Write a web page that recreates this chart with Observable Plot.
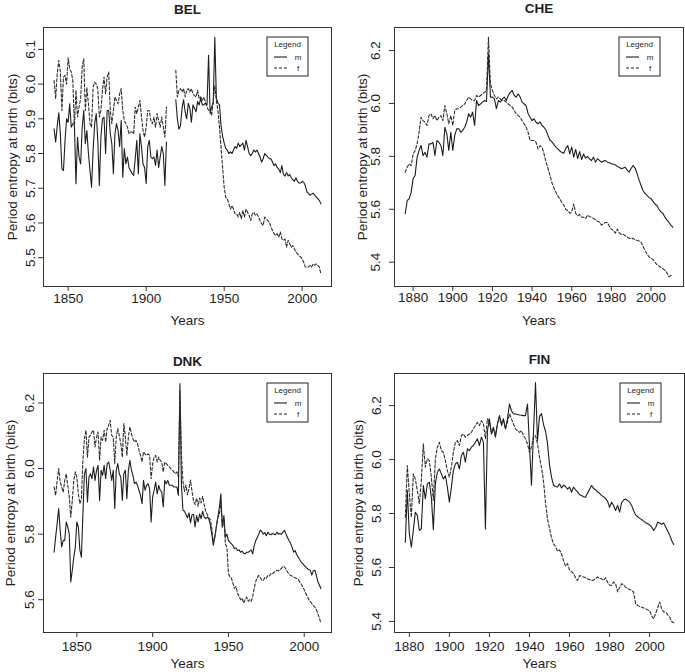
<!DOCTYPE html>
<html><head><meta charset="utf-8">
<script src="https://cdn.jsdelivr.net/npm/d3@7"></script>
<script src="https://cdn.jsdelivr.net/npm/@observablehq/plot@0.6"></script>
<style>
html,body{margin:0;padding:0;background:#fff;}
#wrap{position:relative;width:685px;height:672px;overflow:hidden;background:#fff;}
#wrap svg{position:absolute;}
</style></head><body><div id="wrap"></div>
<script>
// ---------------- DATA ----------------
const countries = ["BEL", "CHE", "DNK", "FIN"];
const legendTitle = "Legend";
const legendLabels = ["m", "f"];
const xLabel = "Years";
const yLabel = "Period entropy at birth (bits)";

// BEL: 1841-2012, no data 1914-1918
const belStart = 1841;
const belMale = [
 5.871,5.833,5.88,5.917,5.857,5.756,5.751,5.838,5.90,5.89,
 5.943,5.876,5.886,5.888,5.713,5.847,5.79,5.77,5.876,5.924,
 5.828,5.866,5.80,5.751,5.703,5.81,5.886,5.915,5.838,5.708,
 5.847,5.90,5.905,5.80,5.924,5.924,5.857,5.828,5.742,5.857,
 5.886,5.866,5.82,5.895,5.732,5.814,5.77,5.79,5.76,5.751,
 5.742,5.737,5.785,5.838,5.742,5.857,5.82,5.77,5.76,5.713,
 5.82,5.838,5.79,5.785,5.79,5.766,5.81,5.76,5.79,5.82,
 5.80,5.708,5.833,
 null,null,null,null,null,
 5.955,5.90,5.87,5.88,5.93,5.955,5.92,5.90,5.945,5.93,5.89,5.94,
 5.93,5.92,5.95,5.94,5.96,5.94,5.94,5.945,5.94,6.083,
 5.915,5.935,5.945,6.135,5.96,5.945,5.94,5.88,5.85,5.83,
 5.815,5.81,5.80,5.805,5.80,5.81,5.82,5.815,5.83,5.82,
 5.825,5.83,5.81,5.838,5.82,5.80,5.794,5.80,5.81,5.805,
 5.81,5.80,5.79,5.775,5.785,5.80,5.795,5.79,5.785,5.785,
 5.775,5.765,5.77,5.76,5.755,5.745,5.765,5.74,5.735,5.745,
 5.735,5.74,5.73,5.725,5.72,5.73,5.72,5.715,5.715,5.72,
 5.717,5.707,5.69,5.685,5.68,5.683,5.686,5.68,5.675,5.67,5.665,5.655
];
const belFemale = [
 6.01,5.958,6.03,6.068,6.035,5.924,6.02,6.025,6.0,6.076,
 6.044,6.035,6.01,5.876,5.982,5.905,5.934,5.958,6.05,6.073,
 5.924,5.99,5.943,5.886,5.876,5.99,6.006,6.0,5.987,5.905,
 5.924,5.982,6.02,5.972,6.02,6.035,5.924,5.886,5.924,5.963,
 5.953,5.943,5.972,5.987,5.924,5.895,5.886,5.876,5.857,5.862,
 5.862,5.857,5.934,5.915,5.934,5.953,5.905,5.866,5.847,5.876,
 5.924,5.924,5.895,5.886,5.905,5.876,5.915,5.895,5.876,5.905,
 5.876,5.847,5.934,
 null,null,null,null,null,
 6.04,5.963,5.982,5.987,5.977,5.987,5.963,5.982,5.987,5.977,5.987,5.972,
 5.967,5.963,5.982,5.958,5.963,5.953,5.963,5.948,5.934,5.924,
 5.924,5.91,5.953,5.996,5.953,5.924,5.876,5.818,5.76,5.703,
 5.674,5.67,5.655,5.64,5.65,5.64,5.626,5.626,5.617,5.631,
 5.612,5.636,5.617,5.64,5.631,5.622,5.607,5.626,5.631,5.622,
 5.626,5.617,5.607,5.598,5.593,5.617,5.612,5.607,5.602,5.588,
 5.578,5.569,5.564,5.569,5.559,5.574,5.554,5.55,5.554,5.53,
 5.55,5.54,5.53,5.535,5.526,5.516,5.511,5.506,5.502,5.497,
 5.487,5.473,5.473,5.473,5.478,5.473,5.482,5.478,5.482,5.478,5.473,5.453
];

// CHE: 1876-2011
const cheStart = 1876;
const cheMale = [
 5.583,5.633,5.639,5.665,5.715,5.728,5.797,5.822,5.841,5.803,
 5.815,5.797,5.847,5.847,5.853,5.803,5.86,5.853,5.841,5.803,
 5.91,5.885,5.822,5.891,5.822,5.879,5.904,5.904,5.891,5.898,
 5.91,5.929,5.961,5.948,5.967,5.917,6.011,5.992,5.998,6.005,
 6.011,6.007,6.187,6.024,6.024,6.017,5.98,6.011,6.005,6.017,
 6.024,6.011,6.03,6.042,6.049,6.03,6.024,6.036,6.024,6.005,
 5.998,5.992,5.961,5.948,5.935,5.942,5.929,5.923,5.93,5.917,
 5.91,5.90,5.88,5.862,5.855,5.845,5.835,5.828,5.82,5.815,
 5.812,5.83,5.841,5.809,5.835,5.797,5.826,5.791,5.818,5.788,
 5.809,5.793,5.80,5.79,5.784,5.797,5.778,5.791,5.785,5.778,
 5.782,5.784,5.778,5.776,5.772,5.77,5.768,5.762,5.759,5.753,
 5.756,5.759,5.748,5.74,5.755,5.765,5.755,5.734,5.71,5.69,
 5.67,5.66,5.652,5.645,5.64,5.63,5.62,5.614,5.60,5.59,
 5.585,5.57,5.56,5.551,5.54,5.532
];
const cheFemale = [
 5.74,5.759,5.772,5.765,5.809,5.822,5.847,5.891,5.948,5.935,
 5.929,5.917,5.954,5.961,5.942,5.954,5.935,5.948,5.954,5.935,
 5.992,5.961,5.923,5.954,5.917,5.973,5.98,5.98,5.986,5.992,
 5.998,6.011,6.024,6.017,6.011,6.011,6.03,6.024,6.03,6.036,
 6.042,6.049,6.25,6.074,6.049,6.03,6.017,6.024,6.017,6.011,
 6.011,6.005,5.998,5.992,5.986,5.973,5.961,5.954,5.948,5.935,
 5.923,5.91,5.891,5.86,5.86,5.86,5.853,5.828,5.84,5.835,
 5.81,5.78,5.755,5.73,5.70,5.68,5.665,5.65,5.64,5.625,
 5.615,5.60,5.595,5.585,5.59,5.62,5.585,5.575,5.58,5.57,
 5.57,5.565,5.578,5.572,5.57,5.565,5.56,5.555,5.552,5.54,
 5.545,5.55,5.55,5.535,5.525,5.52,5.51,5.525,5.51,5.505,
 5.505,5.50,5.495,5.49,5.488,5.49,5.485,5.482,5.48,5.475,
 5.46,5.445,5.43,5.42,5.415,5.41,5.40,5.39,5.385,5.38,
 5.375,5.37,5.36,5.345,5.35,5.35
];

// DNK: 1835-2011
const dnkStart = 1835;
const dnkMale = [
 5.745,5.791,5.832,5.878,5.812,5.761,5.781,5.781,5.837,5.822,
 5.801,5.654,5.69,5.73,5.761,5.837,5.822,5.751,5.73,5.862,
 5.984,6.0,5.898,5.974,5.984,5.969,6.005,5.964,5.995,6.01,
 5.903,5.995,5.979,6.01,5.969,6.015,6.02,5.995,5.964,5.995,
 5.878,5.995,6.015,5.984,5.974,5.903,5.984,5.995,5.908,5.995,
 6.025,5.995,5.979,5.954,5.959,5.949,5.934,5.918,5.893,5.964,
 5.934,5.949,5.954,5.939,5.837,5.913,5.934,5.959,5.923,5.949,
 5.934,5.928,5.883,5.964,5.954,5.964,5.949,5.949,5.949,5.944,
 5.944,5.944,5.918,6.259,5.95,5.873,5.87,5.86,5.85,5.865,
 5.835,5.86,5.86,5.822,5.857,5.837,5.862,5.847,5.87,5.852,
 5.847,5.852,5.847,5.83,5.801,5.766,5.791,5.822,5.852,5.88,
 5.923,5.822,5.857,5.791,5.80,5.78,5.775,5.77,5.765,5.756,
 5.758,5.75,5.752,5.745,5.748,5.742,5.74,5.745,5.745,5.748,
 5.752,5.74,5.765,5.78,5.79,5.80,5.812,5.808,5.80,5.805,
 5.795,5.806,5.80,5.798,5.802,5.80,5.798,5.806,5.80,5.802,
 5.80,5.806,5.812,5.80,5.79,5.78,5.772,5.76,5.745,5.75,
 5.738,5.73,5.722,5.715,5.71,5.705,5.70,5.695,5.692,5.69,
 5.675,5.688,5.69,5.674,5.655,5.645,5.634
];
const dnkFemale = [
 5.944,5.918,5.964,6.0,5.959,5.944,5.928,5.964,5.984,5.949,
 5.913,5.852,5.903,5.964,5.99,5.974,5.923,5.893,5.908,6.025,
 6.091,6.117,6.035,6.096,6.101,6.112,6.117,6.066,6.096,6.112,
 6.025,6.096,6.086,6.117,6.081,6.122,6.132,6.147,6.101,6.096,
 6.015,6.096,6.122,6.101,6.076,6.035,6.137,6.096,6.04,6.096,
 6.127,6.106,6.091,6.081,6.086,6.076,6.056,6.04,6.02,6.051,
 6.045,6.04,6.045,6.04,5.969,6.015,6.035,6.04,6.02,6.035,
 6.025,6.02,5.99,6.02,6.015,6.01,6.005,6.0,5.995,5.99,
 5.984,5.99,5.974,6.239,6.045,5.96,5.93,5.95,5.92,5.94,
 5.965,5.93,5.90,5.89,5.91,5.885,5.91,5.895,5.915,5.89,
 5.87,5.86,5.85,5.845,5.82,5.775,5.79,5.82,5.85,5.86,
 5.90,5.82,5.85,5.77,5.76,5.68,5.67,5.665,5.65,5.635,
 5.64,5.62,5.61,5.60,5.605,5.59,5.60,5.608,5.595,5.60,
 5.595,5.61,5.635,5.655,5.668,5.674,5.668,5.66,5.658,5.668,
 5.665,5.674,5.672,5.68,5.678,5.684,5.686,5.69,5.688,5.692,
 5.695,5.702,5.70,5.692,5.685,5.678,5.674,5.672,5.669,5.667,
 5.665,5.662,5.655,5.648,5.64,5.63,5.62,5.61,5.60,5.595,
 5.588,5.582,5.578,5.57,5.557,5.545,5.527
];

// FIN: 1878-2012
const finStart = 1878;
const finMale = [
 5.694,5.885,5.725,5.675,5.737,5.805,5.793,5.737,5.743,5.904,
 5.854,5.91,5.916,5.86,5.74,5.91,5.953,5.965,5.947,5.928,
 5.94,5.898,5.842,5.898,5.959,5.984,5.99,5.965,6.015,6.027,
 5.99,6.04,6.033,6.046,6.052,6.064,6.077,6.052,6.083,6.064,
 5.743,6.107,6.151,6.095,6.12,6.083,6.132,6.163,6.132,6.151,
 6.114,6.151,6.206,6.181,6.169,6.169,6.167,6.165,6.164,6.163,
 6.163,6.206,6.05,5.905,6.10,6.285,6.07,6.16,6.17,6.13,
 6.105,6.06,5.98,5.935,5.905,5.90,5.898,5.91,5.895,5.905,
 5.90,5.89,5.898,5.879,5.898,5.888,5.88,5.87,5.867,5.862,
 5.86,5.875,5.89,5.904,5.893,5.888,5.88,5.875,5.867,5.862,
 5.855,5.845,5.823,5.842,5.83,5.811,5.83,5.805,5.84,5.85,
 5.854,5.848,5.842,5.83,5.81,5.795,5.788,5.782,5.778,5.772,
 5.766,5.762,5.758,5.75,5.737,5.748,5.768,5.765,5.76,5.765,
 5.75,5.735,5.72,5.70,5.685
];
const finFemale = [
 5.786,5.978,5.873,5.786,5.947,5.928,5.885,5.836,5.922,6.058,
 5.972,6.002,5.996,5.935,5.848,6.002,6.046,6.064,6.033,6.027,
 5.996,5.959,5.935,5.972,6.027,6.064,6.07,6.052,6.089,6.095,
 6.083,6.089,6.095,6.101,6.114,6.126,6.138,6.126,6.144,6.132,
 6.077,6.151,6.138,6.095,6.114,6.089,6.132,6.157,6.126,6.144,
 6.114,6.138,6.169,6.151,6.132,6.114,6.107,6.101,6.107,6.089,
 6.077,6.058,6.027,6.046,6.083,6.089,6.06,6.01,5.97,5.92,
 5.84,5.78,5.745,5.71,5.688,5.678,5.66,5.665,5.65,5.626,
 5.605,5.614,5.59,5.585,5.577,5.562,5.552,5.57,5.567,5.565,
 5.562,5.558,5.555,5.552,5.553,5.558,5.565,5.56,5.558,5.552,
 5.562,5.545,5.535,5.533,5.546,5.54,5.51,5.525,5.54,5.535,
 5.527,5.521,5.518,5.515,5.509,5.465,5.46,5.455,5.453,5.45,
 5.447,5.443,5.44,5.42,5.41,5.43,5.45,5.472,5.447,5.435,
 5.435,5.425,5.416,5.40,5.395
];

// Tick labels
const belXTicks = [1850, 1900, 1950, 2000];
const belYTicks = [5.5, 5.6, 5.7, 5.8, 5.9, 6.0, 6.1];
const cheXTicks = [1880, 1900, 1920, 1940, 1960, 1980, 2000];
const cheYTicks = [5.4, 5.6, 5.8, 6.0, 6.2];
const dnkXTicks = [1850, 1900, 1950, 2000];
const dnkYTicks = [5.6, 5.8, 6.0, 6.2];
const finXTicks = [1880, 1900, 1920, 1940, 1960, 1980, 2000];
const finYTicks = [5.4, 5.6, 5.8, 6.0, 6.2];

// ---------------- SCALES / LAYOUT ----------------
const series = {
  BEL: {start: belStart, m: belMale, f: belFemale, xt: belXTicks, yt: belYTicks},
  CHE: {start: cheStart, m: cheMale, f: cheFemale, xt: cheXTicks, yt: cheYTicks},
  DNK: {start: dnkStart, m: dnkMale, f: dnkFemale, xt: dnkXTicks, yt: dnkYTicks},
  FIN: {start: finStart, m: finMale, f: finFemale, xt: finXTicks, yt: finYTicks}
};
const domains = {
  BEL: {x: [1834.2, 2018.8], y: [5.417, 6.163]},
  CHE: {x: [1870.6, 2016.4], y: [5.308, 6.287]},
  DNK: {x: [1828.0, 2018.0], y: [5.500, 6.290]},
  FIN: {x: [1872.6, 2017.4], y: [5.359, 6.319]}
};
const layout = {
  BEL: {left: 0,   top: 0,   width: 343, ml: 43, mr: 12, mt: 27, mb: 50, title: -18, xt: 12,   yt: -13, ylab: -31, xl: 34},
  CHE: {left: 343, top: 0,   width: 342, ml: 51, mr: 2,  mt: 27, mb: 50, title: -19, xt: 11,   yt: -19, ylab: -32, xl: 34},
  DNK: {left: 0,   top: 336, width: 343, ml: 43, mr: 12, mt: 37, mb: 40, title: -12, xt: 14.5, yt: -14, ylab: -33, xl: 31},
  FIN: {left: 343, top: 336, width: 342, ml: 51, mr: 1,  mt: 37, mb: 40, title: -14, xt: 14,   yt: -18, ylab: -36, xl: 31}
};
const H = 336;
const FONT = "'Liberation Sans', Arial, Helvetica, sans-serif";
const INK = "#1e1e1e";
const wrap = document.getElementById("wrap");

for (const code of countries) {
  const s = series[code], L = layout[code], D = domains[code];
  const rows = s.m.map((v, i) => ({year: s.start + i, m: v, f: s.f[i]}));
  const fw = L.width - L.ml - L.mr, fh = H - L.mt - L.mb;
  const svg = Plot.plot({
    width: L.width, height: H,
    marginLeft: L.ml, marginRight: L.mr, marginTop: L.mt, marginBottom: L.mb,
    style: {fontFamily: FONT, fontSize: "13.5px", color: INK, background: "transparent", overflow: "visible"},
    x: {domain: D.x, label: null, axis: null},
    y: {domain: D.y, label: null, axis: null},
    marks: [
      Plot.line(rows, {x: "year", y: "m", stroke: INK, strokeWidth: 1.1}),
      Plot.line(rows, {x: "year", y: "f", stroke: "#2e2e2e", strokeWidth: 1.1, strokeDasharray: "3,2"}),
      Plot.frame({stroke: "#333", strokeWidth: 1}),
      Plot.tickX(s.xt, {x: d => d, insetTop: fh, insetBottom: -5, stroke: "#333"}),
      Plot.tickY(s.yt, {y: d => d, insetRight: fw, insetLeft: -5, stroke: "#333"}),
      Plot.text(s.xt, {x: d => d, frameAnchor: "bottom", dy: L.xt, textAnchor: "middle", lineAnchor: "middle", text: d => String(d), fill: INK}),
      Plot.text(s.yt, {y: d => d, frameAnchor: "left", dx: L.yt, rotate: -90, textAnchor: "middle", lineAnchor: "middle", text: d => d.toFixed(1), fill: INK}),
      Plot.text([code], {frameAnchor: "top", dy: L.title, textAnchor: "middle", lineAnchor: "middle", fontWeight: "bold", text: d => d, fill: INK}),
      Plot.text([xLabel], {frameAnchor: "bottom", dy: L.xl, textAnchor: "middle", lineAnchor: "middle", text: d => d, fill: INK}),
      Plot.text([yLabel], {frameAnchor: "left", dx: L.ylab, rotate: -90, textAnchor: "middle", lineAnchor: "middle", text: d => d, fill: INK})
    ]
  });
  svg.style.left = L.left + "px";
  svg.style.top = L.top + "px";

  // legend box (top-right, like R's legend("topright"))
  const bx = L.width - L.mr - 64, by = L.mt + 10;
  const g = d3.select(svg).append("g")
    .attr("font-family", FONT).attr("font-size", 8).attr("fill", INK);
  g.append("rect").attr("x", bx).attr("y", by).attr("width", 41).attr("height", 39)
    .attr("fill", "white").attr("stroke", "#222").attr("stroke-width", 1);
  g.append("text").attr("x", bx + 20.5).attr("y", by + 9.5).attr("text-anchor", "middle").text(legendTitle);
  legendLabels.forEach((lab, i) => {
    const yy = by + 20 + i * 11;
    g.append("line").attr("x1", bx + 7).attr("x2", bx + 20).attr("y1", yy).attr("y2", yy)
      .attr("stroke", INK).attr("stroke-width", 1.1)
      .attr("stroke-dasharray", i === 1 ? "3,2" : null);
    g.append("text").attr("x", bx + 31).attr("y", yy + 3).text(lab);
  });
  wrap.appendChild(svg);
}
</script>
</body></html>
